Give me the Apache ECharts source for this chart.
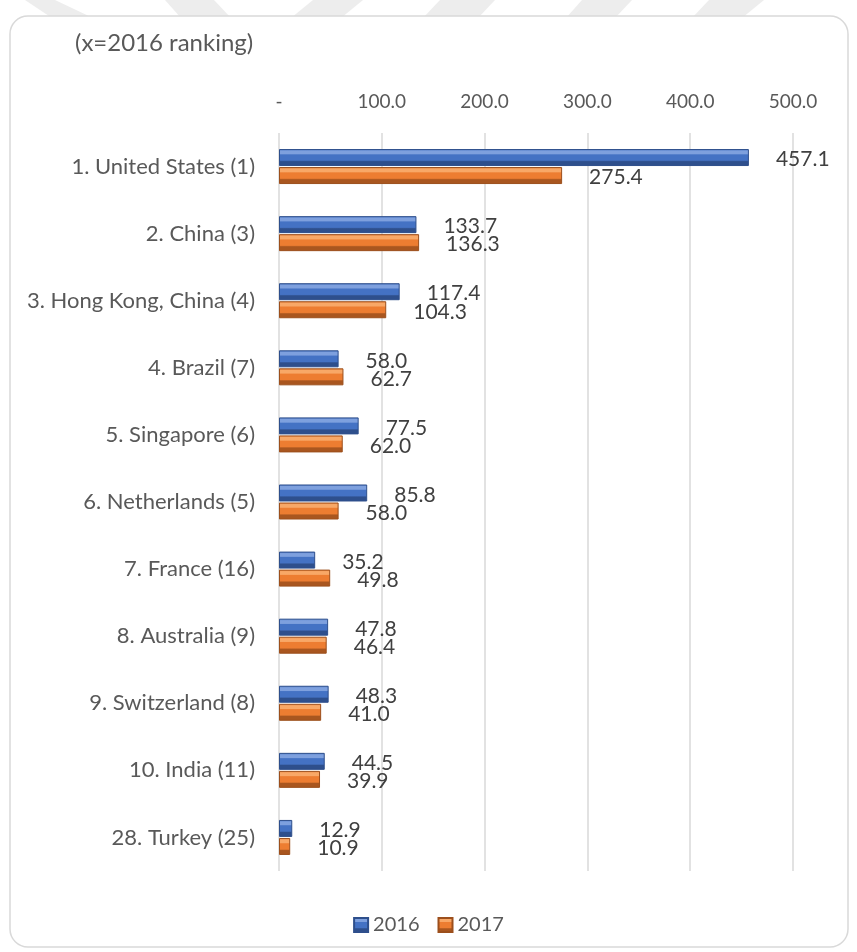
<!DOCTYPE html>
<html>
<head>
<meta charset="utf-8">
<title>FDI inflows ranking 2016–2017</title>
<script src="https://cdn.jsdelivr.net/npm/echarts@6/dist/echarts.min.js"></script>
<style>
  html, body { margin: 0; padding: 0; background: #ffffff; }
  #chart { width: 857px; height: 952px; }
</style>
</head>
<body>
<div id="chart"></div>
<script>
// Economies, labelled with their 2017 rank and (2016 rank)
const categories = [
  '1. United States (1)',
  '2. China (3)',
  '3. Hong Kong, China (4)',
  '4. Brazil (7)',
  '5. Singapore (6)',
  '6. Netherlands (5)',
  '7. France (16)',
  '8. Australia (9)',
  '9. Switzerland (8)',
  '10. India (11)',
  '28. Turkey (25)'
];
const values2016 = [457.1, 133.7, 117.4, 58.0, 77.5, 85.8, 35.2, 47.8, 48.3, 44.5, 12.9];
const values2017 = [275.4, 136.3, 104.3, 62.7, 62.0, 58.0, 49.8, 46.4, 41.0, 39.9, 10.9];
const seriesNames = ['2016', '2017'];
const axisTicks = [0, 100, 200, 300, 400, 500];

const FONT = 'Lato, "Open Sans", sans-serif';

// Bevelled look: light rim on top, base colour in the middle, dark rim below
function bevel(light, base, dark) {
  return new echarts.graphic.LinearGradient(0, 0, 0, 1, [
    { offset: 0, color: base },
    { offset: 0.12, color: light },
    { offset: 0.28, color: light },
    { offset: 0.34, color: base },
    { offset: 0.66, color: base },
    { offset: 0.74, color: dark },
    { offset: 1, color: dark }
  ]);
}

const blueFill = bevel('#7EA0DE', '#4472C4', '#2E4F8C');
const orangeFill = bevel('#F8A867', '#ED7D31', '#A9561F');

// faint diagonal watermark stripes above the frame
const stripes = [
  [[25, 0], [55, 0], [93, 18], [52, 18]],
  [[165, 0], [214, 0], [231, 18], [181, 18]],
  [[313, 0], [363, 0], [341, 18], [291, 18]],
  [[440, 0], [495, 0], [478, 18], [423, 18]],
  [[582, 0], [632, 0], [615, 18], [566, 18]],
  [[709, 0], [764, 0], [742, 18], [692, 18]]
];

const chart = echarts.init(document.getElementById('chart'), null, { renderer: 'canvas' });

chart.setOption({
  backgroundColor: '#ffffff',
  animation: false,
  textStyle: { fontFamily: FONT },
  graphic: [
    ...stripes.map(pts => ({
      type: 'polygon',
      z: -10,
      shape: { points: pts },
      style: { fill: '#EDEDED' }
    })),
    {
      type: 'rect',
      z: -5,
      shape: { x: 10, y: 16, width: 838, height: 931, r: 18 },
      style: { fill: '#ffffff', stroke: '#D9D9D9', lineWidth: 1.5 }
    },
    {
      type: 'text',
      left: 75,
      top: 31,
      style: {
        text: '(x=2016 ranking)',
        fill: '#595959',
        font: '24px ' + FONT
      }
    }
  ],
  legend: {
    bottom: 12,
    left: 'center',
    data: seriesNames,
    icon: 'rect',
    itemWidth: 14,
    itemHeight: 14,
    itemGap: 18,
    textStyle: { color: '#595959', fontSize: 20, fontFamily: FONT }
  },
  grid: {
    left: 279,
    right: 64,
    top: 133,
    bottom: 81,
    containLabel: false
  },
  xAxis: {
    type: 'value',
    position: 'top',
    min: axisTicks[0],
    max: axisTicks[axisTicks.length - 1],
    interval: axisTicks[1] - axisTicks[0],
    axisLine: { show: false },
    axisTick: { show: false },
    splitLine: { show: true, lineStyle: { color: '#D9D9D9', width: 1.5 } },
    axisLabel: {
      margin: 22,
      color: '#595959',
      fontSize: 19,
      fontFamily: FONT,
      formatter: v => (v === 0 ? '-' : v.toFixed(1))
    }
  },
  yAxis: {
    type: 'category',
    inverse: true,
    data: categories,
    axisLine: { show: false },
    axisTick: { show: false },
    splitLine: { show: false },
    axisLabel: {
      margin: 24,
      color: '#595959',
      fontSize: 22,
      fontFamily: FONT
    }
  },
  series: [
    {
      name: seriesNames[0],
      type: 'bar',
      data: values2016,
      barWidth: 17,
      barGap: '6%',
      itemStyle: { color: blueFill, borderColor: '#2E4F8C', borderWidth: 1 },
      label: {
        show: true,
        position: 'right',
        distance: 27,
        offset: [0, 2],
        color: '#404040',
        fontSize: 21,
        fontFamily: FONT,
        formatter: p => p.value.toFixed(1)
      }
    },
    {
      name: seriesNames[1],
      type: 'bar',
      data: values2017,
      barWidth: 17,
      itemStyle: { color: orangeFill, borderColor: '#9C4F1C', borderWidth: 1 },
      label: {
        show: true,
        position: 'right',
        distance: 27,
        offset: [0, 2],
        color: '#404040',
        fontSize: 21,
        fontFamily: FONT,
        formatter: p => p.value.toFixed(1)
      }
    }
  ]
});
</script>
</body>
</html>
